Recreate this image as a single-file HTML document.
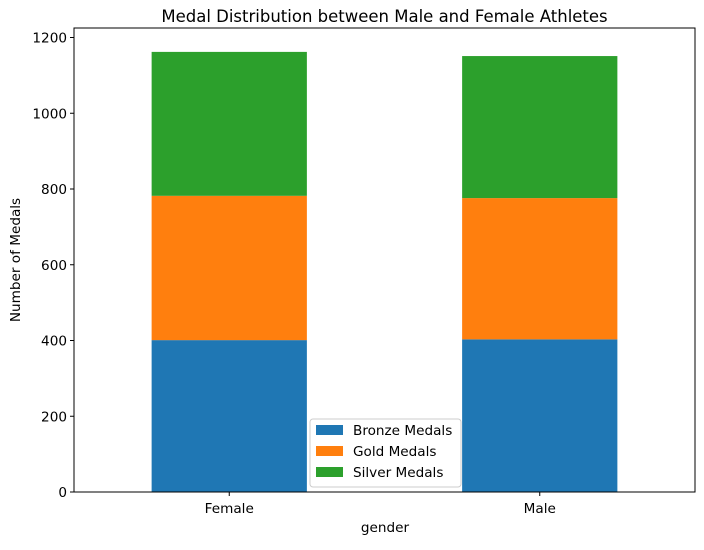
<!DOCTYPE html>
<html><head><meta charset="utf-8"><style>
body{margin:0;background:#fff;}
text{font-family:"DejaVu Sans","Liberation Sans",sans-serif;fill:#000;}
</style></head><body>
<svg id="chart" width="704" height="545" xmlns="http://www.w3.org/2000/svg">
<text x="384.5" y="22" font-size="16.5" text-anchor="middle">Medal Distribution between Male and Female Athletes</text>
<g id="bars"></g>
<g id="yticks"></g>
<g id="xticks"></g>
<rect x="74" y="28" width="621" height="464" fill="none" stroke="#000" stroke-width="1"/>
<text x="385" y="532" font-size="13.6" text-anchor="middle">gender</text>
<text transform="translate(20,260) rotate(-90)" font-size="13.6" text-anchor="middle">Number of Medals</text>
<g id="legend">
<rect x="310" y="419" width="151" height="68" rx="3" fill="#fff" fill-opacity="0.8" stroke="#ccc"/>
</g>
</svg>
<script>
const categories=["Female","Male"];
const seriesNames=["Bronze Medals","Gold Medals","Silver Medals"];
const bronze=[401,403];
const gold=[381,373];
const silver=[380,375];
const yTicks=[0,200,400,600,800,1000,1200];
const colors=["#1f77b4","#ff7f0e","#2ca02c"];
const NS="http://www.w3.org/2000/svg";
const L=74,R=695,Y0=492,K=454.5/1200;
const y=v=>Y0-v*K;
const xc=i=>L+(R-L)*(i+0.5)/categories.length;
const bw=(R-L)/categories.length*0.5;
const series=[bronze,gold,silver];
function mk(t,a,p){const e=document.createElementNS(NS,t);for(const k in a)e.setAttribute(k,a[k]);p.appendChild(e);return e;}
const bars=document.getElementById('bars');
categories.forEach((c,i)=>{let base=0;series.forEach((s,j)=>{
const r=mk('rect',{x:xc(i)-bw/2,y:y(base+s[i]),width:bw,height:s[i]*K,fill:colors[j]},bars);


base+=s[i];});});
const yt=document.getElementById('yticks');
yTicks.forEach(v=>{mk('line',{x1:L-4,x2:L,y1:y(v),y2:y(v),stroke:'#000'},yt);
const t=mk('text',{x:L-7,y:y(v)+5,'font-size':13.6,'text-anchor':'end'},yt);t.textContent=v;

});
const xt=document.getElementById('xticks');
categories.forEach((c,i)=>{mk('line',{x1:xc(i),x2:xc(i),y1:Y0,y2:Y0+4,stroke:'#000'},xt);
const t=mk('text',{x:xc(i),y:Y0+21,'font-size':13.6,'text-anchor':'middle'},xt);t.textContent=c;

});
const lg=document.getElementById('legend');
seriesNames.forEach((n,j)=>{const yy=425+j*21;
mk('rect',{x:316,y:yy,width:27,height:10,fill:colors[j]},lg);
const t=mk('text',{x:353,y:yy+10,'font-size':13.6},lg);t.textContent=n;

});
</script>
</body></html>
